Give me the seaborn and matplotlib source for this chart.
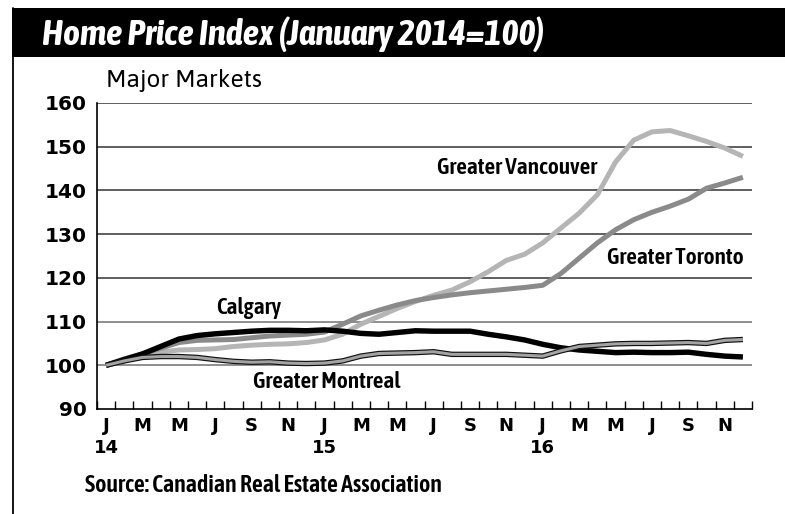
import matplotlib
matplotlib.use("Agg")
import matplotlib.pyplot as plt
import matplotlib.patheffects as pe
from matplotlib import font_manager as fm
from matplotlib.patches import Rectangle
from matplotlib.lines import Line2D
import seaborn as sns
import pandas as pd
import numpy as np

# ---------------- data ----------------
months = list(range(36))  # Jan 2014 .. Dec 2016
month_letters = ["J", "F", "M", "A", "M", "J", "J", "A", "S", "O", "N", "D"]
years = ["14", "15", "16"]

vancouver = [100, 101, 102, 103, 103.5, 103.6, 103.8, 104.3, 104.6, 104.8, 104.9, 105.2,
             105.8, 107.1, 109.4, 111.2, 113.0, 114.6, 116.0, 117.2, 119.1, 121.4, 124.0, 125.4,
             128.0, 131.4, 134.8, 139.0, 146.5, 151.5, 153.4, 153.7, 152.5, 151.2, 149.7, 147.8]
toronto = [100, 101.5, 102.6, 103.9, 105.2, 105.7, 105.8, 105.9, 106.3, 106.7, 106.9, 107.1,
           107.6, 109.4, 111.3, 112.6, 113.8, 114.8, 115.5, 116.1, 116.6, 117.0, 117.4, 117.8,
           118.3, 121.0, 124.5, 128.0, 131.0, 133.3, 135.0, 136.4, 138.0, 140.5, 141.7, 143.0]
calgary = [100, 101.3, 102.6, 104.3, 106.0, 106.8, 107.2, 107.5, 107.8, 108.0, 108.0, 107.9,
           108.1, 107.8, 107.3, 107.1, 107.5, 107.9, 107.8, 107.8, 107.8, 107.1, 106.5, 105.8,
           104.8, 104.0, 103.5, 103.2, 102.9, 103.0, 102.9, 102.9, 103.0, 102.5, 102.1, 101.9]
montreal = [100, 101.0, 101.8, 102.0, 102.0, 101.8, 101.3, 100.9, 100.7, 100.8, 100.5, 100.4,
            100.5, 101.0, 102.1, 102.7, 102.8, 102.9, 103.1, 102.5, 102.5, 102.5, 102.5, 102.3,
            102.1, 103.3, 104.3, 104.6, 104.9, 105.0, 105.0, 105.1, 105.2, 105.0, 105.7, 105.9]

series_names = ["Greater Vancouver", "Greater Toronto", "Calgary", "Greater Montreal"]
yticks = [90, 100, 110, 120, 130, 140, 150, 160]

df = pd.DataFrame({
    "month": months * 4,
    "index": vancouver + toronto + calgary + montreal,
    "market": sum([[n] * 36 for n in series_names], []),
})

# ---------------- fonts ----------------
def have(name):
    try:
        fm.findfont(fm.FontProperties(family=name), fallback_to_default=False)
        return True
    except Exception:
        return False

def pick(*names):
    for n in names:
        if have(n):
            return n
    return "DejaVu Sans"

cond = pick("Asap Condensed", "PT Sans Narrow", "Archivo Narrow", "Barlow Semi Condensed", "Open Sans")
human = pick("Asap", "Source Sans 3", "PT Sans", "Open Sans")

sns.set_theme(style="white")
plt.rcParams["font.family"] = ["DejaVu Sans"]

W, H = 785, 514
fig = plt.figure(figsize=(W / 100, H / 100), dpi=100)
fig.patch.set_facecolor("white")

def fx(x):
    return x / W

def fy(y):
    return 1 - y / H

ax = fig.add_axes([fx(97), fy(409), fx(752) - fx(97), fy(103) - fy(409)])
ax.set_facecolor("white")

# grid lines
for v in yticks[1:]:
    ax.axhline(v, color="#333333" if v >= 120 else "#707070", lw=1.1, zorder=1)

styles = {
    "Greater Vancouver": dict(color="#b5b5b5", lw=3.6),
    "Greater Toronto": dict(color="#8a8a8a", lw=3.6),
    "Calgary": dict(color="#000000", lw=3.9),
}
for name in ["Greater Vancouver", "Greater Toronto", "Calgary"]:
    sns.lineplot(data=df[df.market == name], x="month", y="index", ax=ax,
                 color=styles[name]["color"], lw=styles[name]["lw"],
                 solid_capstyle="butt", zorder=3, legend=False)
sns.lineplot(data=df[df.market == "Greater Montreal"], x="month", y="index", ax=ax,
             color="#a3a3a3", lw=2.2, solid_capstyle="butt", zorder=4, legend=False,
             path_effects=[pe.Stroke(linewidth=3.9, foreground="#111111"), pe.Normal()])

ax.set_xlim(-0.5, 35.5)
ax.set_ylim(90, 160)
ax.set_xlabel("")
ax.set_ylabel("")

# y axis
ax.set_yticks(yticks)
ax.set_yticklabels([str(v) for v in yticks], fontsize=14.5, fontweight="bold",
                   family="DejaVu Sans")
ax.tick_params(axis="y", length=0, pad=7.5, colors="black")

# x axis
major = list(range(0, 36, 2))
labels = []
for m in major:
    lab = month_letters[m % 12]
    if m % 12 == 0:
        lab = lab + "\n" + years[m // 12]
    labels.append(lab)
ax.set_xticks(major)
ax.set_xticklabels(labels, fontsize=13, fontweight="bold", family="DejaVu Sans",
                   linespacing=1.25, va="top")
ax.set_xticks(np.arange(-0.5, 36, 1), minor=True)
ax.tick_params(axis="x", which="major", length=0, pad=6, colors="black")
ax.tick_params(axis="x", which="minor", length=6, width=1.0, direction="in",
               color="black", bottom=True)

for s in ["top", "right"]:
    ax.spines[s].set_visible(False)
for s in ["left", "bottom"]:
    ax.spines[s].set_color("black")
    ax.spines[s].set_linewidth(1.2)

# series labels
lab_kw = dict(fontsize=16.8, fontweight="semibold", family=[cond, "DejaVu Sans"],
              color="black", va="center", ha="left")
fig.text(fx(437), fy(168), "Greater Vancouver", **lab_kw)
fig.text(fx(607), fy(258), "Greater Toronto", **lab_kw)
fig.text(fx(216), fy(308), "Calgary", **lab_kw)
fig.text(fx(253), fy(382), "Greater Montreal", **lab_kw)

# frame: title bar + left border
fig.patches.append(Rectangle((fx(12), fy(57)), 1 - fx(12), fy(8) - fy(57),
                             transform=fig.transFigure, facecolor="black",
                             edgecolor="none", zorder=0))
fig.lines.append(Line2D([fx(12.5), fx(12.5)], [0, fy(8)], transform=fig.transFigure,
                        color="black", lw=1.3))

fig.text(fx(42), fy(34), "Home Price Index (January 2014=100)", color="white",
         fontsize=26, fontweight="bold", fontstyle="italic",
         family=[cond, "DejaVu Sans"], va="center", ha="left")
fig.text(fx(106), fy(80), "Major Markets", color="black", fontsize=17.5,
         fontweight="semibold", fontstyle="normal", family=[human, "DejaVu Sans"],
         va="center", ha="left")
fig.text(fx(85), fy(486), "Source: Canadian Real Estate Association", color="black",
         fontsize=17.3, fontweight="semibold", family=[cond, "DejaVu Sans"],
         va="center", ha="left")

fig.savefig("out.png", dpi=100, facecolor="white")
